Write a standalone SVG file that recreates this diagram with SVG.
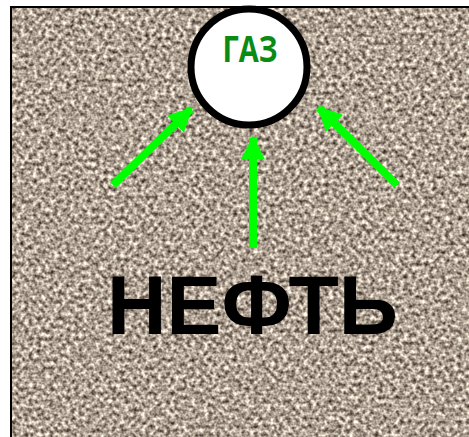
<svg xmlns="http://www.w3.org/2000/svg" width="469" height="437" viewBox="0 0 469 437">
  <defs>
    <!-- grainy sandstone texture -->
    <filter id="grain" x="0" y="0" width="100%" height="100%" color-interpolation-filters="sRGB">
      <feTurbulence type="fractalNoise" baseFrequency="0.24" numOctaves="2" seed="7" result="n"/>
      <feColorMatrix in="n" type="matrix" values="1.3 0 0 0 0.03  1.3 0 0 0 -0.02  1.25 0 0 0 -0.05  0 0 0 0 1" result="c"/>
      <feGaussianBlur in="c" stdDeviation="0.45"/>
    </filter>
    <marker id="head" viewBox="0 0 10 10" refX="9" refY="5" markerWidth="3" markerHeight="3" orient="auto" markerUnits="strokeWidth">
      <path d="M0,0 L10,5 L0,10 Z" fill="#00ff00"/>
    </marker>
    <style>
      .arrow { stroke: #00ff00; stroke-width: 8; fill: none; }
      .gas { font-family: "Open Sans", "Noto Sans", sans-serif; font-weight: bold; fill: #0b8a14; }
      .oil { font-family: "Liberation Sans", Arial, sans-serif; font-weight: bold; fill: #000; }
    </style>
  </defs>

  <rect width="469" height="437" fill="#ffffff"/>
  <!-- textured panel with frame on top and left -->
  <g id="panel">
    <rect x="11" y="7" width="458" height="430" fill="#a99d94"/>
    <rect x="11" y="7" width="458" height="430" filter="url(#grain)"/>
    <path d="M11,437 V7 H469" fill="none" stroke="#000" stroke-width="2"/>
  </g>

  <g id="connectors">
    <line class="arrow" x1="113" y1="185" x2="191" y2="109" marker-end="url(#head)"/>
    <line class="arrow" x1="253" y1="248" x2="253" y2="138" marker-end="url(#head)"/>
    <line class="arrow" x1="397" y1="185" x2="319" y2="108" marker-end="url(#head)"/>
  </g>

  <g id="gas">
    <circle cx="249" cy="67" r="58" fill="#ffffff" stroke="#000" stroke-width="7"/>
    <text class="gas" x="250" y="62" font-size="35" text-anchor="middle" textLength="55" lengthAdjust="spacingAndGlyphs">ГАЗ</text>
  </g>

  <g id="oil">
    <text class="oil" x="107" y="334" font-size="84" textLength="291" lengthAdjust="spacingAndGlyphs">НЕФТЬ</text>
  </g>
</svg>
